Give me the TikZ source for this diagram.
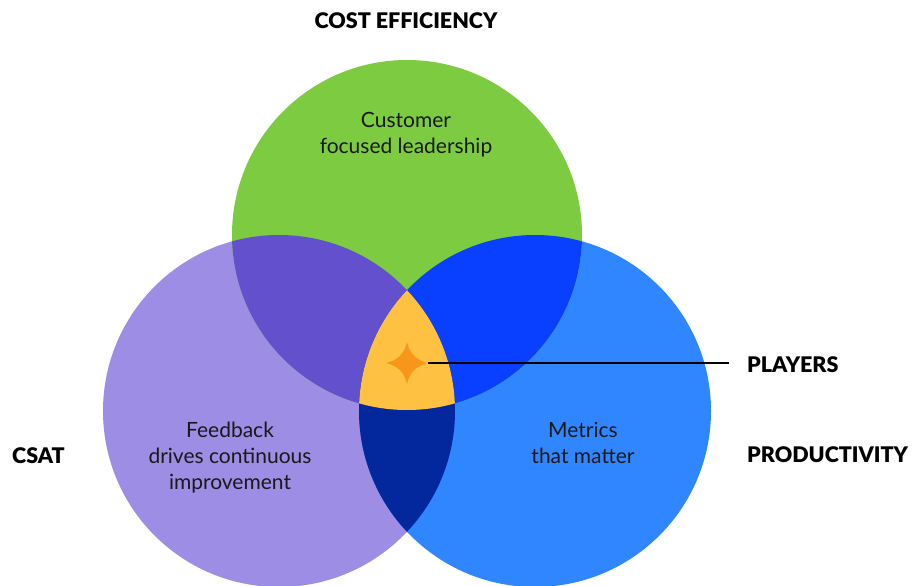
\documentclass[tikz,border=0pt]{standalone}
\usepackage{fontspec}
\setmainfont{Lato}
\newfontfamily\heavyfont{Lato Black}
\begin{document}
\begin{tikzpicture}[x=1pt,y=-1pt,
  heading/.style={font=\fontsize{21.5}{26}\heavyfont, inner sep=0pt},
  body/.style={font=\fontsize{21}{25.8}\selectfont, align=center, inner sep=0pt, text=black!90}]
\definecolor{cgreen}{HTML}{7DCB40}
\definecolor{cpurple}{HTML}{9D8DE4}
\definecolor{cblue}{HTML}{2F86FF}
\definecolor{cpg}{HTML}{6350CD}
\definecolor{cgb}{HTML}{0940FF}
\definecolor{cpb}{HTML}{03279C}
\definecolor{ccore}{HTML}{FFC142}
\definecolor{cstar}{HTML}{F8961B}
\useasboundingbox (0,0) rectangle (913,586);
\fill[white] (0,0) rectangle (913,586);
% circle centres
\coordinate (G) at (407,235);
\coordinate (P) at (279,411);
\coordinate (B) at (535,411);
\def\rg{175}
\def\rp{176}
% base discs
\fill[cpurple] (P) circle[radius=\rp];
\fill[cblue]   (B) circle[radius=\rp];
\fill[cgreen]  (G) circle[radius=\rg];
% pairwise overlaps
\begin{scope}
  \clip (G) circle[radius=\rg];
  \fill[cpg] (P) circle[radius=\rp];
  \fill[cgb] (B) circle[radius=\rp];
\end{scope}
\begin{scope}
  \clip (P) circle[radius=\rp];
  \fill[cpb] (B) circle[radius=\rp];
\end{scope}
% common core
\begin{scope}
  \clip (P) circle[radius=\rp];
  \clip (B) circle[radius=\rp];
  \fill[ccore] (G) circle[radius=\rg];
\end{scope}
% four-pointed star and its leader
\coordinate (star) at (407,363);
\fill[cstar] (407,342) .. controls (409.5,354) and (417,360.5) .. (428,363)
  .. controls (417,365.5) and (409.5,372) .. (407,384)
  .. controls (404.5,372) and (397,365.5) .. (386,363)
  .. controls (397,360.5) and (404.5,354) .. cycle;
\coordinate (starE) at (428,363);
\coordinate (leadEnd) at (729,363);
\draw[line width=1.8pt] (starE) -- (leadEnd);
% labels
\node[heading] (cost) at (406,21) {COST EFFICIENCY};
\node[heading, anchor=base west] (csat) at (12,463) {CSAT};
\node[heading, anchor=base west] (players) at (747,372) {PLAYERS};
\node[heading, anchor=base west] (prod) at (747,462) {PRODUCTIVITY};
\node[body, anchor=base] (lead) at (406,153) {Customer\\focused leadership};
\node[body, anchor=base] (feed) at (230,489) {Feedback\\drives continuous\\improvement};
\node[body, anchor=base] (metrics) at (583,463) {Metrics\\that matter};
\end{tikzpicture}
\end{document}
